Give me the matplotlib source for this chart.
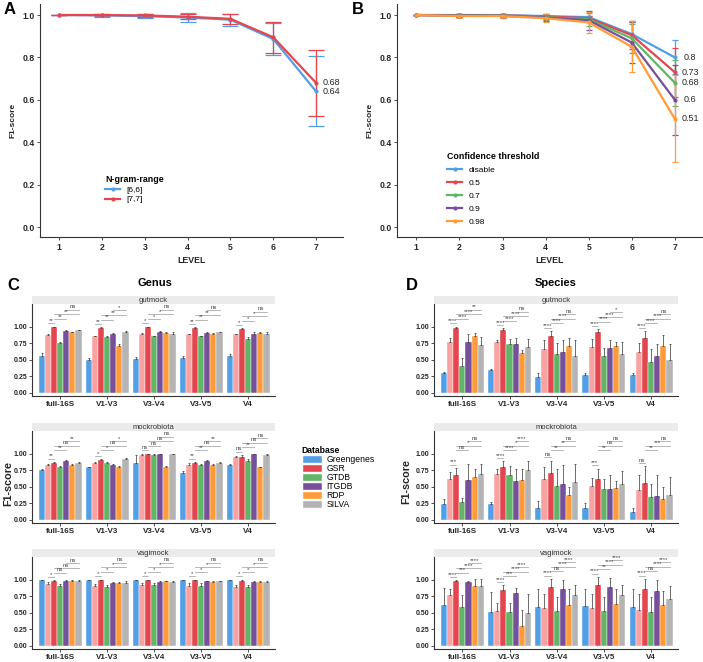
import numpy as np
import matplotlib
matplotlib.use('Agg')
import matplotlib.pyplot as plt
from matplotlib.patches import Patch
from matplotlib.lines import Line2D

plt.rcParams['font.family'] = ['Liberation Sans', 'DejaVu Sans']

###########
## DATA  ##
###########

# panel A : n-gram range
levels = [1, 2, 3, 4, 5, 6, 7]
ngram_names = ['[6,6]', '[7,7]']
ngram66_mean = [1.0, 0.998, 0.995, 0.988, 0.978, 0.887, 0.64]
ngram66_err = [0.0, 0.008, 0.01, 0.021, 0.028, 0.075, 0.165]
ngram77_mean = [1.0, 1.0, 0.998, 0.992, 0.982, 0.895, 0.68]
ngram77_err = [0.0, 0.004, 0.005, 0.012, 0.022, 0.072, 0.155]

# panel B : confidence threshold
conf_names = ['disable', '0.5', '0.7', '0.9', '0.98']
conf_disable = [1.0, 1.0, 1.0, 0.995, 0.99, 0.91, 0.80]
conf_05 = [1.0, 0.999, 0.998, 0.993, 0.985, 0.905, 0.73]
conf_07 = [1.0, 0.998, 0.997, 0.99, 0.98, 0.89, 0.68]
conf_09 = [1.0, 0.997, 0.996, 0.988, 0.975, 0.87, 0.60]
conf_098 = [1.0, 0.995, 0.995, 0.985, 0.965, 0.85, 0.51]
conf_disable_err = [0.0, 0.003, 0.003, 0.005, 0.005, 0.06, 0.08]
conf_05_err = [0.0, 0.005, 0.005, 0.01, 0.01, 0.065, 0.115]
conf_07_err = [0.0, 0.006, 0.006, 0.012, 0.03, 0.07, 0.11]
conf_09_err = [0.0, 0.008, 0.008, 0.015, 0.045, 0.095, 0.165]
conf_098_err = [0.0, 0.01, 0.01, 0.02, 0.05, 0.12, 0.205]

# panels C/D : databases per region
regions = ['full-16S', 'V1-V3', 'V3-V4', 'V3-V5', 'V4']
databases = ['Greengenes', 'GSR*', 'GSR', 'GTDB', 'ITGDB', 'RDP', 'SILVA']
legend_dbs = ['Greengenes', 'GSR', 'GTDB', 'ITGDB', 'RDP', 'SILVA']
mocks = ['gutmock', 'mockrobiota', 'vagimock']

# genus level, one row per region, columns follow `databases`
genus_gutmock = [[0.56, 0.87, 0.99, 0.75, 0.93, 0.91, 0.94],
                 [0.49, 0.85, 0.98, 0.84, 0.89, 0.71, 0.92],
                 [0.51, 0.89, 0.99, 0.85, 0.92, 0.90, 0.89],
                 [0.52, 0.88, 0.98, 0.85, 0.90, 0.89, 0.91],
                 [0.55, 0.88, 0.96, 0.81, 0.89, 0.90, 0.88]]
genus_gutmock_err = [[0.04, 0.01, 0.01, 0.01, 0.01, 0.01, 0.01],
                     [0.04, 0.01, 0.01, 0.01, 0.01, 0.02, 0.01],
                     [0.03, 0.01, 0.01, 0.01, 0.01, 0.01, 0.03],
                     [0.03, 0.01, 0.01, 0.01, 0.01, 0.01, 0.01],
                     [0.04, 0.01, 0.01, 0.03, 0.02, 0.01, 0.03]]
genus_gutmock_sig = [['**', '**', '**', 'ns'], ['**', '**', '**', '*'],
                     ['*', '*', '*', 'ns'], ['**', '**', '**', 'ns'],
                     ['*', '*', '*', 'ns']]

genus_mockrobiota = [[0.75, 0.82, 0.85, 0.79, 0.89, 0.83, 0.86],
                     [0.79, 0.85, 0.90, 0.85, 0.83, 0.80, 0.92],
                     [0.86, 0.98, 0.99, 0.98, 0.99, 0.80, 0.99],
                     [0.71, 0.83, 0.86, 0.83, 0.89, 0.83, 0.86],
                     [0.82, 0.95, 0.95, 0.88, 0.99, 0.79, 0.98]]
genus_mockrobiota_err = [[0.02, 0.02, 0.02, 0.02, 0.01, 0.01, 0.01],
                         [0.01, 0.02, 0.01, 0.02, 0.01, 0.01, 0.01],
                         [0.12, 0.01, 0.01, 0.01, 0.01, 0.01, 0.01],
                         [0.03, 0.02, 0.01, 0.01, 0.01, 0.01, 0.01],
                         [0.02, 0.01, 0.03, 0.03, 0.01, 0.01, 0.01]]
genus_mockrobiota_sig = [['**', '**', 'ns', '**'], ['*', '*', 'ns', '*'],
                         ['ns', 'ns', 'ns', 'ns'], ['**', '**', 'ns', '**'],
                         ['ns', '**', 'ns', 'ns']]

genus_vagimock = [[0.99, 0.93, 0.98, 0.90, 0.98, 0.98, 0.98],
                  [0.99, 0.90, 0.99, 0.88, 0.94, 0.94, 0.95],
                  [0.99, 0.92, 0.99, 0.92, 0.96, 0.97, 0.96],
                  [0.99, 0.90, 0.99, 0.90, 0.97, 0.96, 0.97],
                  [0.99, 0.89, 0.98, 0.88, 0.96, 0.96, 0.96]]
genus_vagimock_err = [[0.01, 0.03, 0.01, 0.03, 0.01, 0.01, 0.01],
                      [0.01, 0.03, 0.01, 0.03, 0.02, 0.02, 0.02],
                      [0.01, 0.03, 0.01, 0.03, 0.01, 0.01, 0.01],
                      [0.01, 0.04, 0.01, 0.04, 0.01, 0.01, 0.01],
                      [0.01, 0.03, 0.02, 0.03, 0.01, 0.01, 0.01]]
genus_vagimock_sig = [['*', 'ns', 'ns', 'ns'], ['*', '*', '*', 'ns'],
                      ['*', '*', '*', 'ns'], ['*', '*', '*', 'ns'],
                      ['*', '*', '*', 'ns']]

# species level
species_gutmock = [[0.29, 0.76, 0.98, 0.41, 0.77, 0.85, 0.72],
                   [0.34, 0.76, 0.95, 0.73, 0.74, 0.60, 0.69],
                   [0.24, 0.66, 0.85, 0.59, 0.62, 0.70, 0.56],
                   [0.27, 0.69, 0.91, 0.56, 0.67, 0.71, 0.58],
                   [0.27, 0.61, 0.82, 0.47, 0.55, 0.71, 0.49]]
species_gutmock_err = [[0.03, 0.07, 0.02, 0.11, 0.12, 0.05, 0.12],
                       [0.02, 0.03, 0.02, 0.08, 0.08, 0.04, 0.12],
                       [0.05, 0.14, 0.08, 0.16, 0.17, 0.12, 0.24],
                       [0.03, 0.12, 0.05, 0.12, 0.13, 0.06, 0.19],
                       [0.03, 0.14, 0.11, 0.19, 0.19, 0.16, 0.25]]
species_gutmock_sig = [['****', '****', '****', '**'], ['****', '****', '****', 'ns'],
                       ['****', '****', '****', 'ns'], ['****', '****', '****', '*'],
                       ['****', '****', '****', 'ns']]

species_mockrobiota = [[0.24, 0.61, 0.67, 0.26, 0.60, 0.64, 0.69],
                       [0.24, 0.69, 0.80, 0.67, 0.59, 0.60, 0.75],
                       [0.18, 0.62, 0.71, 0.51, 0.54, 0.37, 0.57],
                       [0.18, 0.51, 0.62, 0.46, 0.46, 0.48, 0.54],
                       [0.12, 0.45, 0.55, 0.35, 0.36, 0.32, 0.37]]
species_mockrobiota_err = [[0.08, 0.11, 0.11, 0.07, 0.24, 0.13, 0.15],
                           [0.03, 0.07, 0.08, 0.14, 0.18, 0.16, 0.13],
                           [0.10, 0.18, 0.18, 0.25, 0.28, 0.13, 0.27],
                           [0.07, 0.12, 0.15, 0.16, 0.22, 0.11, 0.20],
                           [0.06, 0.22, 0.26, 0.19, 0.32, 0.18, 0.27]]
species_mockrobiota_sig = [['***', 'ns', '*', 'ns'], ['****', '****', '*', '****'],
                           ['ns', '**', '**', 'ns'], ['***', '**', 'ns', 'ns'],
                           ['ns', '**', '***', 'ns']]

species_vagimock = [[0.61, 0.76, 0.97, 0.59, 0.96, 0.90, 0.90],
                    [0.51, 0.53, 0.84, 0.51, 0.80, 0.29, 0.50],
                    [0.59, 0.57, 0.88, 0.53, 0.86, 0.62, 0.76],
                    [0.60, 0.57, 0.91, 0.53, 0.88, 0.63, 0.76],
                    [0.59, 0.54, 0.86, 0.51, 0.82, 0.61, 0.70]]
species_vagimock_err = [[0.26, 0.10, 0.02, 0.18, 0.02, 0.11, 0.11],
                        [0.30, 0.12, 0.07, 0.13, 0.07, 0.25, 0.28],
                        [0.26, 0.21, 0.13, 0.21, 0.14, 0.23, 0.16],
                        [0.26, 0.21, 0.13, 0.21, 0.14, 0.22, 0.16],
                        [0.26, 0.24, 0.15, 0.23, 0.17, 0.22, 0.20]]
species_vagimock_sig = [['****', '***', '****', '****'], ['****', '***', '****', '****'],
                        ['****', 'ns', '****', '****'], ['****', '**', '****', '****'],
                        ['****', 'ns', '****', '****']]

# which bars each significance bracket joins (indices into `databases`)
sig_pairs = [(1, 2), (2, 4), (2, 6), (4, 6)]

#############
## STYLING ##
#############
BLUE = '#529FE6'
RED = '#E4464F'
GREEN = '#62B566'
PURPLE = '#76509B'
ORANGE = '#FF9B38'
GREY = '#B4B4B4'
PINK = '#F8A2A2'
db_colors = [BLUE, PINK, RED, GREEN, PURPLE, ORANGE, GREY]
conf_colors = [BLUE, RED, GREEN, PURPLE, ORANGE]
TXT = '#262626'

W, H = 703, 662
fig = plt.figure(figsize=(W / 100, H / 100), dpi=100)


def px_axes(l, t, r, b):
    return fig.add_axes([l / W, 1 - b / H, (r - l) / W, (b - t) / H])


def style_axes(ax, fs=6.2, xfs=None, tl=2.5):
    for s in ['top', 'right']:
        ax.spines[s].set_visible(False)
    for s in ['left', 'bottom']:
        ax.spines[s].set_color('#333333')
        ax.spines[s].set_linewidth(0.8)
    ax.tick_params(length=tl, width=0.6, colors='#333333', labelsize=fs, pad=1.5)
    if xfs:
        ax.tick_params(axis='x', labelsize=xfs)
    for lab in ax.get_xticklabels() + ax.get_yticklabels():
        lab.set_fontweight('bold')
        lab.set_color(TXT)


def line_panel(ax, series, errs, names, colors, capsize):
    handles = []
    for y, e, nm, c in zip(series, errs, names, colors):
        ax.errorbar(levels, y, yerr=e, color=c, lw=1.6, marker='o', ms=2,
                    capsize=capsize, elinewidth=0.9, capthick=0.9)
        ax.annotate('%g' % y[-1], (levels[-1], y[-1]), xytext=(11, 0),
                    textcoords='offset points', ha='center', va='center',
                    fontsize=6.5, color=TXT)
        handles.append(Line2D([], [], color=c, lw=1.6, marker='o', ms=2, label=nm))
    ax.set_xlim(0.55, 7.63)
    ax.set_ylim(-0.047, 1.052)
    ax.set_xticks(levels)
    ax.set_yticks(np.arange(0, 1.01, 0.2))
    ax.set_yticklabels(['%.1f' % v for v in np.arange(0, 1.01, 0.2)])
    ax.set_xlabel('LEVEL', fontsize=6.3, fontweight='bold', color=TXT, labelpad=3)
    ax.set_ylabel('F1-score', fontsize=6, fontweight='bold', color=TXT, labelpad=4)
    style_axes(ax)
    return handles


def bar_panel(ax, means, errs, sigs):
    x = np.arange(len(regions))
    w = 0.13
    means = np.array(means)
    errs = np.array(errs)
    for j, c in enumerate(db_colors):
        ax.bar(x + (j - 3) * w, means[:, j], w, color=c, edgecolor='white', linewidth=0.3,
               yerr=[np.zeros(len(regions)), errs[:, j]],
               error_kw=dict(ecolor='#333333', elinewidth=0.5, capsize=0.8, capthick=0.5))
    tops = means + errs
    for i in range(len(regions)):
        y0 = max(tops[i, 1], tops[i, 2]) + 0.05
        base = max(y0 + 0.065, 1.05)
        for k, ((a, b), lab) in enumerate(zip(sig_pairs, sigs[i])):
            y = y0 if k == 0 else base + 0.07 * (k - 1)
            xa, xb = x[i] + (a - 3) * w, x[i] + (b - 3) * w
            ax.plot([xa, xb], [y, y], color='#9a9a9a', lw=0.5)
            ax.text((xa + xb) / 2, y + 0.004, lab, ha='center', va='bottom',
                    fontsize=4.3, color='#444444')
    ax.set_xlim(-0.6, 4.57)
    ax.set_ylim(-0.05, 1.34)
    ax.set_xticks(x)
    ax.set_xticklabels(regions)
    ax.set_yticks([0, 0.25, 0.5, 0.75, 1.0])
    ax.set_yticklabels(['0.00', '0.25', '0.50', '0.75', '1.00'])
    style_axes(ax, fs=5, xfs=5.8, tl=2)


def strip(l, t, r, b, text):
    s = px_axes(l, t, r, b)
    s.set_facecolor('#EBEBEB')
    s.set_xticks([])
    s.set_yticks([])
    for sp in s.spines.values():
        sp.set_visible(False)
    s.text(0.5, 0.45, text, ha='center', va='center', fontsize=5.5, color='#333333',
           transform=s.transAxes)


# ---- panel A
axA = px_axes(40, 4, 343, 237)
hA = line_panel(axA, [ngram66_mean, ngram77_mean], [ngram66_err, ngram77_err],
                ngram_names, [BLUE, RED], 5.5)
legA = axA.legend(handles=hA, loc='upper left', bbox_to_anchor=(0.19, 0.30), frameon=False,
                  fontsize=6, title='N-gram-range', handlelength=1.8,
                  labelspacing=0.25, alignment='left')
legA.get_title().set_fontweight('bold')
legA.get_title().set_fontsize(6.4)

# ---- panel B
axB = px_axes(397, 4, 702, 237)
hB = line_panel(axB, [conf_disable, conf_05, conf_07, conf_09, conf_098],
                [conf_disable_err, conf_05_err, conf_07_err, conf_09_err, conf_098_err],
                conf_names, conf_colors, 2)
legB = axB.legend(handles=hB, loc='upper left', bbox_to_anchor=(0.14, 0.395), frameon=False,
                  fontsize=6, title='Confidence threshold', handlelength=1.8,
                  labelspacing=0.6, alignment='left')
legB.get_title().set_fontweight('bold')
legB.get_title().set_fontsize(6.4)

# ---- panels C / D
rows = [(296, 304, 396), (423, 431, 523), (549, 557, 649)]
genus_sets = [(genus_gutmock, genus_gutmock_err, genus_gutmock_sig),
              (genus_mockrobiota, genus_mockrobiota_err, genus_mockrobiota_sig),
              (genus_vagimock, genus_vagimock_err, genus_vagimock_sig)]
species_sets = [(species_gutmock, species_gutmock_err, species_gutmock_sig),
                (species_mockrobiota, species_mockrobiota_err, species_mockrobiota_sig),
                (species_vagimock, species_vagimock_err, species_vagimock_sig)]

for (st, at, ab), mock, gs, ss in zip(rows, mocks, genus_sets, species_sets):
    strip(32, st, 275, at, mock)
    axg = px_axes(32, at, 275, ab)
    bar_panel(axg, *gs)
    strip(434, st, 678, at, mock)
    axs = px_axes(434, at, 678, ab)
    bar_panel(axs, *ss)

fig.text(8 / W, 1 - 483 / H, 'F1-score', rotation=90, ha='center', va='center',
         fontsize=7.8, fontweight='bold', color=TXT)
fig.text(406 / W, 1 - 481 / H, 'F1-score', rotation=90, ha='center', va='center',
         fontsize=7.8, fontweight='bold', color=TXT)

# database legend
handles = [Patch(facecolor=db_colors[databases.index(d)], edgecolor='white') for d in legend_dbs]
legD = fig.legend(handles, legend_dbs, loc='upper left', bbox_to_anchor=(294 / W, 1 - 438 / H),
                  frameon=False, fontsize=6.2, title='Database', handlelength=2.4,
                  handleheight=1.1, labelspacing=0.0, handletextpad=0.5, alignment='left')
legD.get_title().set_fontweight('bold')
legD.get_title().set_fontsize(6.2)

# panel letters and titles
for lbl, xp, yp in [('A', 4, 9), ('B', 352, 9), ('C', 7, 285), ('D', 406, 285)]:
    fig.text(xp / W, 1 - yp / H, lbl, fontsize=12, fontweight='bold', va='center')
fig.text(155 / W, 1 - 283 / H, 'Genus', fontsize=8, fontweight='bold', ha='center', va='center')
fig.text(556 / W, 1 - 283 / H, 'Species', fontsize=8, fontweight='bold', ha='center', va='center')

fig.savefig('out.png', dpi=100)
